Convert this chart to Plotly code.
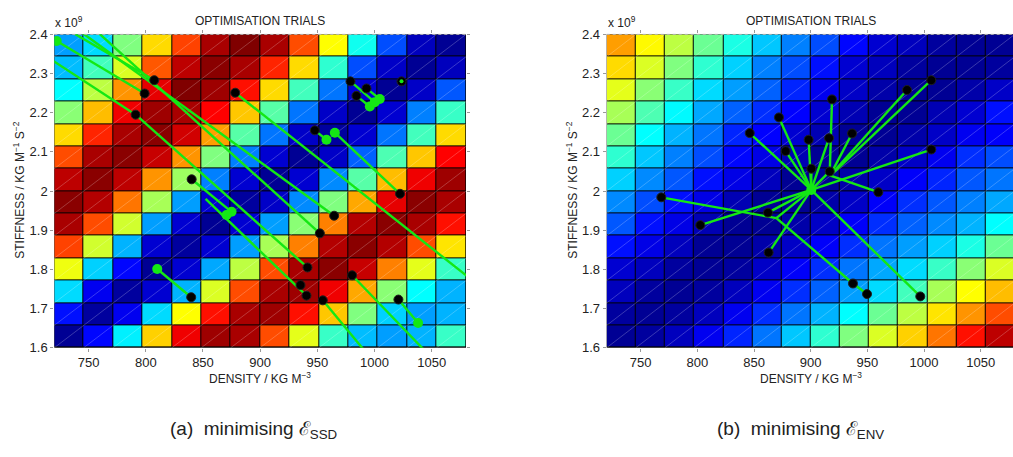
import plotly.graph_objects as go

# ---------------- data ----------------
density_range = [720, 1080]
stiffness_range_1e9 = [1.6, 2.4]
n_cells = 14

x_ticks = [750, 800, 850, 900, 950, 1000, 1050]
y_ticks = [1.6, 1.7, 1.8, 1.9, 2.0, 2.1, 2.2, 2.3, 2.4]
y_tick_text = ["1.6", "1.7", "1.8", "1.9", "2", "2.1", "2.2", "2.3", "2.4"]

cost_ssd = [
    [0.28, 0.34, 0.50, 0.66, 0.81, 0.96, 1.00, 0.96, 0.80, 0.625, 0.39, 0.20, 0.06, 0.02],
    [0.31, 0.44, 0.59, 0.79, 0.94, 0.99, 0.96, 0.84, 0.66, 0.42, 0.20, 0.07, 0.02, 0.06],
    [0.375, 0.56, 0.73, 0.90, 1.00, 0.97, 0.86, 0.66, 0.44, 0.24, 0.08, 0.02, 0.07, 0.21],
    [0.51, 0.69, 0.89, 0.97, 0.96, 0.875, 0.68, 0.46, 0.24, 0.07, 0.02, 0.08, 0.25, 0.43],
    [0.66, 0.84, 0.96, 0.99, 0.92, 0.72, 0.46, 0.24, 0.07, 0.03, 0.08, 0.24, 0.44, 0.66],
    [0.80, 0.96, 0.99, 0.93, 0.73, 0.50, 0.25, 0.08, 0.02, 0.07, 0.22, 0.45, 0.68, 0.875],
    [0.94, 0.99, 0.94, 0.73, 0.53, 0.25, 0.08, 0.02, 0.08, 0.26, 0.46, 0.69, 0.89, 0.97],
    [0.99, 0.95, 0.76, 0.54, 0.28, 0.08, 0.03, 0.07, 0.26, 0.50, 0.71, 0.90, 0.99, 0.96],
    [0.96, 0.80, 0.58, 0.28, 0.08, 0.02, 0.08, 0.28, 0.51, 0.75, 0.95, 0.99, 0.96, 0.86],
    [0.81, 0.58, 0.30, 0.08, 0.03, 0.08, 0.28, 0.54, 0.75, 0.95, 0.99, 0.95, 0.80, 0.65],
    [0.61, 0.33, 0.13, 0.02, 0.08, 0.29, 0.56, 0.80, 0.96, 0.99, 0.93, 0.75, 0.60, 0.43],
    [0.34, 0.11, 0.03, 0.08, 0.30, 0.59, 0.80, 0.96, 0.97, 0.89, 0.71, 0.51, 0.375, 0.30],
    [0.14, 0.03, 0.11, 0.34, 0.625, 0.86, 0.96, 0.97, 0.86, 0.68, 0.50, 0.33, 0.28, 0.30],
    [0.02, 0.13, 0.36, 0.67, 0.89, 0.97, 0.96, 0.80, 0.60, 0.43, 0.31, 0.28, 0.30, 0.43],
]
cost_env = [
    [0.72, 0.63, 0.56, 0.48, 0.40, 0.32, 0.25, 0.20, 0.13, 0.08, 0.06, 0.03, 0.02, 0.02],
    [0.66, 0.59, 0.50, 0.42, 0.33, 0.25, 0.20, 0.14, 0.08, 0.06, 0.03, 0.02, 0.02, 0.03],
    [0.60, 0.51, 0.43, 0.34, 0.28, 0.22, 0.16, 0.11, 0.07, 0.04, 0.02, 0.02, 0.04, 0.07],
    [0.54, 0.45, 0.37, 0.29, 0.22, 0.17, 0.125, 0.08, 0.05, 0.02, 0.02, 0.05, 0.08, 0.14],
    [0.48, 0.375, 0.30, 0.24, 0.16, 0.125, 0.08, 0.05, 0.02, 0.02, 0.04, 0.07, 0.11, 0.12],
    [0.42, 0.32, 0.25, 0.20, 0.13, 0.10, 0.05, 0.02, 0.02, 0.04, 0.07, 0.11, 0.17, 0.20],
    [0.33, 0.26, 0.21, 0.14, 0.10, 0.06, 0.02, 0.02, 0.04, 0.07, 0.12, 0.16, 0.21, 0.24],
    [0.26, 0.20, 0.14, 0.10, 0.05, 0.02, 0.02, 0.04, 0.07, 0.12, 0.17, 0.21, 0.25, 0.29],
    [0.21, 0.14, 0.10, 0.05, 0.02, 0.02, 0.04, 0.07, 0.12, 0.17, 0.22, 0.26, 0.30, 0.375],
    [0.14, 0.10, 0.06, 0.02, 0.02, 0.04, 0.07, 0.12, 0.17, 0.24, 0.28, 0.33, 0.40, 0.48],
    [0.08, 0.06, 0.03, 0.02, 0.03, 0.07, 0.12, 0.17, 0.24, 0.29, 0.34, 0.43, 0.51, 0.59],
    [0.06, 0.03, 0.02, 0.03, 0.06, 0.11, 0.17, 0.22, 0.28, 0.34, 0.44, 0.54, 0.625, 0.69],
    [0.03, 0.02, 0.03, 0.06, 0.11, 0.17, 0.24, 0.30, 0.375, 0.48, 0.56, 0.65, 0.73, 0.80],
    [0.02, 0.03, 0.06, 0.11, 0.16, 0.24, 0.32, 0.42, 0.50, 0.59, 0.67, 0.76, 0.86, 0.94],
]

ssd_seg_x0 = [722.1, 707.5, 690.0, 725.0, 746.8, 791.1, 840.1, 852.3, 947.8, 965.3, 878.2,
              979.0, 993.0, 984.2, 810.0, 954.8, 980.4, 1020.9]
ssd_seg_y0 = [2.383, 2.453, 2.388, 2.445, 2.435, 2.195, 2.030, 1.980, 2.155, 2.149, 2.251,
              2.280, 2.262, 2.243, 1.801, 1.721, 1.785, 1.723]
ssd_seg_x1 = [799.0, 807.4, 791.1, 964.7, 952.2, 941.4, 875.0, 940.5, 958.0, 1022.3, 1100.7,
              1000.2, 1004.6, 995.9, 839.7, 1000.2, 1052.7, 1038.1]
ssd_seg_y1 = [2.249, 2.283, 2.195, 1.937, 1.892, 1.805, 1.947, 1.733, 2.131, 1.993, 1.737,
              2.227, 2.235, 2.216, 1.729, 1.561, 1.566, 1.663]
ssd_start_x = [807.4, 799.0, 791.1, 878.2, 1023.6, 993.0, 984.2, 979.0, 947.8, 840.1,
               1022.3, 964.7, 952.2, 941.4, 980.4, 935.3, 940.5, 954.8, 1020.9, 839.7]
ssd_start_y = [2.283, 2.249, 2.195, 2.251, 2.280, 2.262, 2.243, 2.280, 2.155, 2.030,
               1.993, 1.937, 1.892, 1.805, 1.785, 1.760, 1.733, 1.721, 1.723, 1.729]
ssd_end_x = [722.1, 965.3, 958.0, 875.0, 870.6, 1038.1, 810.0, 995.9, 1004.6, 1000.2]
ssd_end_y = [2.383, 2.149, 2.131, 1.947, 1.939, 1.663, 1.801, 2.216, 2.235, 2.227]
ssd_inner_x = [1023.6]
ssd_inner_y = [2.280]

env_seg_x0 = [1006.4, 985.0, 918.8, 872.0, 846.2, 898.2, 916.2, 936.5, 877.9, 1006.4, 900.6,
              916.8, 959.7, 768.2, 862.3, 802.6, 862.9, 937.3, 949.7, 869.7, 996.7]
env_seg_y0 = [2.283, 2.258, 2.234, 2.188, 2.148, 2.131, 2.135, 2.147, 2.102, 2.106, 2.057,
              2.050, 1.997, 1.984, 1.945, 1.913, 1.843, 1.764, 1.737, 1.931, 1.731]
env_seg_x1 = [916.8, 916.8, 916.8, 900.5, 900.5, 900.5, 900.5, 916.8, 900.5, 900.5, 900.5,
              900.5, 916.8, 869.7, 900.5, 900.5, 900.5, 869.7, 937.3, 900.5, 900.5]
env_seg_y1 = [2.038, 2.038, 2.045, 2.003, 2.003, 2.003, 2.003, 2.038, 2.003, 2.003, 2.003,
              2.003, 2.040, 1.931, 2.003, 2.003, 2.003, 1.931, 1.764, 2.003, 2.003]
env_start_x = [1006.4, 985.0, 918.8, 872.0, 846.2, 898.2, 916.2, 936.5, 877.9, 1006.4,
               900.6, 916.8, 959.7, 768.2, 862.3, 802.6, 862.9, 937.3, 949.7, 996.7]
env_start_y = [2.283, 2.258, 2.234, 2.188, 2.148, 2.131, 2.135, 2.147, 2.102, 2.106,
               2.057, 2.050, 1.997, 1.984, 1.945, 1.913, 1.843, 1.764, 1.737, 1.731]
env_end_x = [900.5]
env_end_y = [2.003]

# ---------------- styling ----------------
W, H = 1013, 457
FONT = "Liberation Sans, Arial, Helvetica, sans-serif"
TXT = "#222222"
GREEN = "rgb(20,232,20)"
JET = [[0.0, "rgb(0,0,128)"], [0.125, "rgb(0,0,255)"], [0.375, "rgb(0,255,255)"],
       [0.625, "rgb(255,255,0)"], [0.875, "rgb(255,0,0)"], [1.0, "rgb(128,0,0)"]]

x_edges = [density_range[0] + k * (density_range[1] - density_range[0]) / n_cells for k in range(n_cells + 1)]
y_edges = [stiffness_range_1e9[0] + k * (stiffness_range_1e9[1] - stiffness_range_1e9[0]) / n_cells
           for k in range(n_cells + 1)]
x_centers = [(x_edges[k] + x_edges[k + 1]) / 2 for k in range(n_cells)]
y_centers_top_down = [(y_edges[k] + y_edges[k + 1]) / 2 for k in range(n_cells)][::-1]


def seg_xy(x0, y0, x1, y1):
    xs, ys = [], []
    for a, b, c, d in zip(x0, y0, x1, y1):
        xs += [a, c, None]
        ys += [b, d, None]
    return xs, ys


def diag_xy():
    xs, ys = [], []
    for k in range(-(n_cells - 1), n_cells):
        i0, j0 = max(0, k), max(0, -k)
        n = n_cells - abs(k)
        xs += [x_edges[i0], x_edges[i0 + n], None]
        ys += [y_edges[j0], y_edges[j0 + n], None]
    return xs, ys


fig = go.Figure()

panels = [
    dict(z=cost_ssd, seg=(ssd_seg_x0, ssd_seg_y0, ssd_seg_x1, ssd_seg_y1),
         start=(ssd_start_x, ssd_start_y), end=(ssd_end_x, ssd_end_y),
         inner=(ssd_inner_x, ssd_inner_y), xa="x", ya="y"),
    dict(z=cost_env, seg=(env_seg_x0, env_seg_y0, env_seg_x1, env_seg_y1),
         start=(env_start_x, env_start_y), end=(env_end_x, env_end_y),
         inner=([], []), xa="x2", ya="y2"),
]

for p in panels:
    fig.add_trace(go.Heatmap(z=p["z"], x=x_centers, y=y_centers_top_down, colorscale=JET,
                             zmin=0, zmax=1, showscale=False, xgap=1, ygap=1,
                             xaxis=p["xa"], yaxis=p["ya"], hoverinfo="skip"))
    dx, dy = diag_xy()
    fig.add_trace(go.Scatter(x=dx, y=dy, mode="lines", xaxis=p["xa"], yaxis=p["ya"],
                             line=dict(color="rgba(255,255,255,0.38)", width=0.6),
                             hoverinfo="skip", showlegend=False))
    sx, sy = seg_xy(*p["seg"])
    fig.add_trace(go.Scatter(x=sx, y=sy, mode="lines", xaxis=p["xa"], yaxis=p["ya"],
                             line=dict(color=GREEN, width=2.4), hoverinfo="skip", showlegend=False))
    fig.add_trace(go.Scatter(x=p["start"][0], y=p["start"][1], mode="markers",
                             xaxis=p["xa"], yaxis=p["ya"],
                             marker=dict(color="black", size=9, line=dict(color="#202020", width=1)),
                             hoverinfo="skip", showlegend=False))
    fig.add_trace(go.Scatter(x=p["end"][0], y=p["end"][1], mode="markers",
                             xaxis=p["xa"], yaxis=p["ya"],
                             marker=dict(color=GREEN, size=10, line=dict(width=0)),
                             hoverinfo="skip", showlegend=False))
    if p["inner"][0]:
        fig.add_trace(go.Scatter(x=p["inner"][0], y=p["inner"][1], mode="markers",
                                 xaxis=p["xa"], yaxis=p["ya"],
                                 marker=dict(color=GREEN, size=4, line=dict(width=0)),
                                 hoverinfo="skip", showlegend=False))

L_left, L_right = 54.3, 466.0
R_left, R_right = 606.7, 1013.0
top_px, bot_px = 28.3, 352.3
right_xmax = 720 + (R_right - R_left) / 1.1333

ax_common = dict(tickfont=dict(family=FONT, size=13, color=TXT), ticks="outside", ticklen=3,
                 tickcolor="#999999", showgrid=False, zeroline=False, showline=False, mirror="ticks")

fig.update_layout(
    width=W, height=H, margin=dict(l=0, r=0, t=0, b=0),
    paper_bgcolor="white", plot_bgcolor="black", showlegend=False,
    xaxis=dict(domain=[L_left / W, L_right / W], range=density_range, tickvals=x_ticks,
               anchor="y", **ax_common),
    yaxis=dict(domain=[1 - bot_px / H, 1 - top_px / H], range=stiffness_range_1e9,
               tickvals=y_ticks, ticktext=y_tick_text, anchor="x", **ax_common),
    xaxis2=dict(domain=[R_left / W, R_right / W], range=[720, right_xmax], tickvals=x_ticks,
                anchor="y2", **ax_common),
    yaxis2=dict(domain=[1 - bot_px / H, 1 - top_px / H], range=stiffness_range_1e9,
                tickvals=y_ticks, ticktext=y_tick_text, anchor="x2", **ax_common),
)

ann = []
for (lft, rgt, ylab_x, cap, cap_x) in [
    (L_left, L_right, 19, "(a)  minimising \u2130<sub>SSD</sub>", 253),
    (R_left, 1014.7, 572, "(b)  minimising \u2130<sub>ENV</sub>", 800),
]:
    cx = (lft + rgt) / 2
    ann.append(dict(text="OPTIMISATION TRIALS", x=cx / W, y=1 - 14 / H, xref="paper", yref="paper",
                    xanchor="center", yanchor="middle", showarrow=False,
                    font=dict(family=FONT, size=12, color=TXT)))
    ann.append(dict(text="x 10<sup>9</sup>", x=(lft - 1) / W, y=1 - 15 / H, xref="paper", yref="paper",
                    xanchor="left", yanchor="middle", showarrow=False,
                    font=dict(family=FONT, size=12, color=TXT)))
    ann.append(dict(text="DENSITY / KG M<sup>\u22123</sup>", x=cx / W, y=1 - 384 / H,
                    xref="paper", yref="paper", xanchor="center", yanchor="middle", showarrow=False,
                    font=dict(family=FONT, size=12, color=TXT)))
    ann.append(dict(text="STIFFNESS / KG M<sup>\u22121</sup> S<sup>\u22122</sup>", x=ylab_x / W,
                    y=1 - 190 / H, xref="paper", yref="paper", xanchor="center", yanchor="middle",
                    textangle=-90, showarrow=False, font=dict(family=FONT, size=12, color=TXT)))
    ann.append(dict(text=cap, x=cap_x / W, y=1 - 437 / H, xref="paper", yref="paper",
                    xanchor="center", yanchor="middle", showarrow=False,
                    font=dict(family=FONT, size=19, color=TXT)))
fig.update_layout(annotations=ann)

shapes = []
for xr, yr in [("x domain", "y domain"), ("x2 domain", "y2 domain")]:
    shapes.append(dict(type="line", xref=xr, yref=yr, x0=0, x1=1, y0=1, y1=1,
                       line=dict(color="#b8b8b8", width=1, dash="dot"), layer="above"))
fig.update_layout(shapes=shapes)

fig.write_html("out.html")
